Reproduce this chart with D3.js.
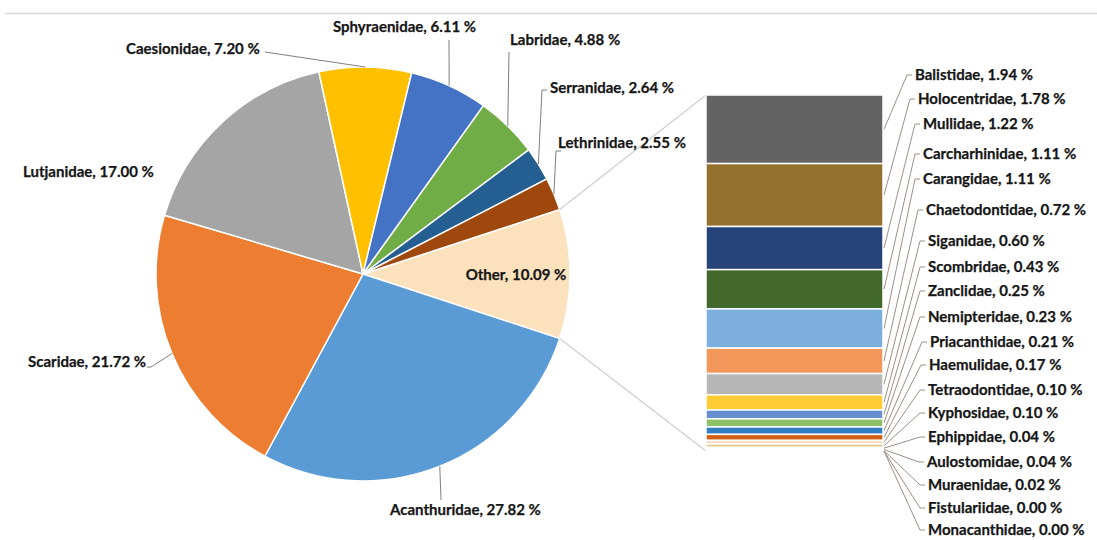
<!DOCTYPE html>
<html>
<head>
<meta charset="utf-8">
<script src="https://cdn.jsdelivr.net/npm/d3@7"></script>
<style>
  html, body { margin: 0; padding: 0; background: #ffffff; }
  svg { display: block; }
  text { font-family: Lato, "Open Sans", "Liberation Sans", sans-serif; font-weight: 700; fill: #161616; stroke: #161616; stroke-width: 0.25px; }
</style>
</head>
<body>
<svg id="chart" width="1097" height="540"></svg>
<script>
// ---------- DATA ----------
const pieCategories = ["Other", "Acanthuridae", "Scaridae", "Lutjanidae", "Caesionidae",
  "Sphyraenidae", "Labridae", "Serranidae", "Lethrinidae"];
const pieValues = [10.09, 27.82, 21.72, 17.00, 7.20, 6.11, 4.88, 2.64, 2.55];

const otherCategories = ["Balistidae", "Holocentridae", "Mullidae", "Carcharhinidae", "Carangidae",
  "Chaetodontidae", "Siganidae", "Scombridae", "Zanclidae", "Nemipteridae", "Priacanthidae",
  "Haemulidae", "Tetraodontidae", "Kyphosidae", "Ephippidae", "Aulostomidae", "Muraenidae",
  "Fistulariidae", "Monacanthidae"];
const otherValues = [1.94, 1.78, 1.22, 1.11, 1.11, 0.72, 0.60, 0.43, 0.25, 0.23, 0.21,
  0.17, 0.10, 0.10, 0.04, 0.04, 0.02, 0.00, 0.00];

// ---------- STYLE / LAYOUT ----------
const pieColors = ["#fce1bd", "#5b9bd5", "#ed7d31", "#a5a5a5", "#ffc000", "#4472c4", "#70ad47", "#255e91", "#9e480e"];
const barColors = ["#636363", "#93702c", "#264478", "#43682b", "#7cafdd", "#f1975a", "#b7b7b7",
  "#ffcd33", "#698ed0", "#8cc168", "#327dc2", "#d26012", "#f6dcc4", "#e6c98a", "#a9b8d8",
  "#b5cfa0", "#9e9e9e", "#c9a35a", "#8aa6c8"];

const cx = 363, cy = 274, R = 207;
const bar = { x0: 706, x1: 883, y0: 95, y1: 451 };
const fontSize = 15;

// pie label placement
const pieLabelPos = {
  "Other":        { x: 516, y: 275, anchor: "middle", leader: null },
  "Acanthuridae": { x: 390, y: 510, anchor: "start", leader: [441, 500] },
  "Scaridae":     { x: 28,  y: 362, anchor: "start", leader: [151, 367], tick: [147, 367] },
  "Lutjanidae":   { x: 23,  y: 172, anchor: "start", leader: null },
  "Caesionidae":  { x: 126, y: 49,  anchor: "start", leader: [265, 52] },
  "Sphyraenidae": { x: 333, y: 27,  anchor: "start", leader: [449, 40] },
  "Labridae":     { x: 510, y: 40,  anchor: "start", leader: [509, 52] },
  "Serranidae":   { x: 550, y: 88,  anchor: "start", leader: [542, 90], tick: [547, 90] },
  "Lethrinidae":  { x: 558, y: 143, anchor: "start", leader: [556, 151], tick: [561, 151] }
};
const barLabelY = [75, 99, 124, 154, 179, 210, 241, 267, 291, 317, 342, 365, 390, 413, 437, 462, 485, 508, 530];
const barLabelX = [915, 918, 923, 923, 923, 926, 928, 928, 928, 928, 930, 929, 928, 928, 928, 927, 928, 928, 928];

const fmt = v => v.toFixed(2) + " %";

// ---------- DRAW ----------
const svg = d3.select("#chart");

// top border line
svg.append("line").attr("x1", 5).attr("x2", 1097).attr("y1", 13.5).attr("y2", 13.5)
  .attr("stroke", "#d9d9d9").attr("stroke-width", 1.5);

const total = d3.sum(pieValues);
const otherFrac = pieValues[0] / total;
const start = Math.PI / 2 - otherFrac * Math.PI;

const pie = d3.pie().sort(null).value(d => d)
  .startAngle(start).endAngle(start + 2 * Math.PI);
const arcs = pie(pieValues);
const arc = d3.arc().innerRadius(0).outerRadius(R);

const gPie = svg.append("g").attr("transform", `translate(${cx},${cy})`);
gPie.selectAll("path").data(arcs).join("path")
  .attr("d", arc)
  .attr("fill", (d, i) => pieColors[i])
  .attr("stroke", "#ffffff").attr("stroke-width", 1.5).attr("stroke-linejoin", "round");

const pt = (a, r) => [cx + r * Math.sin(a), cy - r * Math.cos(a)];

const oA = arcs[0];
const pTop = pt(oA.startAngle, R), pBot = pt(oA.endAngle, R);

// bar scale
const otherTotal = d3.sum(otherValues);
const yBar = d3.scaleLinear().domain([0, otherTotal]).range([bar.y0, bar.y1]);
let cum = 0;
const segs = otherValues.map((v, i) => { const s = { name: otherCategories[i], v, a: cum, b: cum + v, i }; cum += v; return s; });

svg.append("line").attr("x1", pTop[0]).attr("y1", pTop[1]).attr("x2", bar.x0).attr("y2", yBar(0))
  .attr("stroke", "#cfcfcf").attr("stroke-width", 1.2);
svg.append("line").attr("x1", pBot[0]).attr("y1", pBot[1]).attr("x2", bar.x0).attr("y2", yBar(otherTotal))
  .attr("stroke", "#cfcfcf").attr("stroke-width", 1.2);

// bar segments
svg.append("g").selectAll("rect").data(segs).join("rect")
  .attr("x", bar.x0).attr("width", bar.x1 - bar.x0)
  .attr("y", d => yBar(d.a)).attr("height", d => Math.max(0, yBar(d.b) - yBar(d.a)))
  .attr("fill", d => barColors[d.i])
  .attr("stroke", "#ffffff").attr("stroke-width", 1.5);

// bar labels + leaders
const gBL = svg.append("g");
segs.forEach((d, i) => {
  const my = (yBar(d.a) + yBar(d.b)) / 2;
  const ly = barLabelY[i], lx = barLabelX[i];
  gBL.append("path")
    .attr("d", `M${bar.x1 + 1},${my} L${lx - 8},${ly} L${lx - 3},${ly}`)
    .attr("fill", "none").attr("stroke", "#9c8f86").attr("stroke-width", 1);
  gBL.append("text").attr("x", lx).attr("y", ly).attr("dy", "0.35em")
    .attr("font-size", fontSize)
    .text(`${d.name}, ${fmt(d.v)}`);
});

// pie labels + leaders
const gPL = svg.append("g");
arcs.forEach((a, i) => {
  const name = pieCategories[i];
  const L = pieLabelPos[name];
  const mid = (a.startAngle + a.endAngle) / 2;
  const p = pt(mid, R);
  if (L.leader) {
    let d = `M${p[0]},${p[1]} L${L.leader[0]},${L.leader[1]}`;
    if (L.tick) d += ` L${L.tick[0]},${L.tick[1]}`;
    gPL.append("path").attr("d", d).attr("fill", "none")
      .attr("stroke", "#7f7f7f").attr("stroke-width", 1);
  }
  gPL.append("text").attr("x", L.x).attr("y", L.y).attr("dy", "0.35em")
    .attr("text-anchor", L.anchor).attr("font-size", fontSize)
    .text(`${name}, ${fmt(pieValues[i])}`);
});
</script>
</body>
</html>
